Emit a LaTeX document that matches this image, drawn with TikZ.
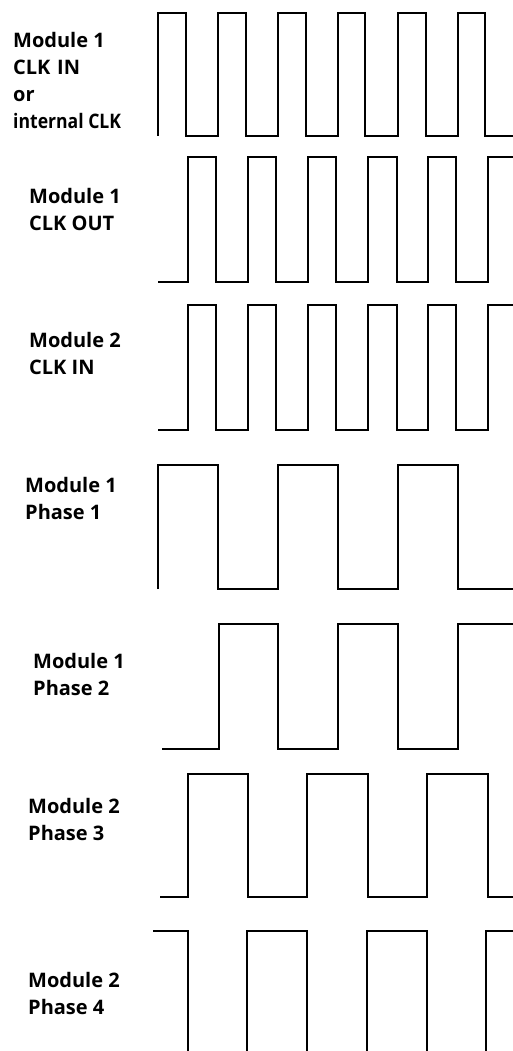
\documentclass[tikz,border=0pt]{standalone}
\usepackage{graphicx}
\usepackage{fontspec}
\setmainfont{Open Sans}
\begin{document}
\begin{tikzpicture}[x=1pt,y=-1pt,
  wave/.style={line width=2.6pt, black},
  lbl/.style={anchor=base west, inner sep=0pt, align=left,
    font=\bfseries\fontsize{20}{27}\selectfont}]
\useasboundingbox (0,0) rectangle (513,1051);
% labels (anchored at the baseline of their last line)
\node[lbl] (l1) at (13,128.3) {Module 1\\CLK\,\,IN\\or\\\scalebox{0.88}[1]{internal CLK}};
\node[lbl] (l2) at (29,230) {Module 1\\CLK OUT};
\node[lbl] (l3) at (29,374) {Module 2\\CLK IN};
\node[lbl] (l4) at (25,519.3) {Module 1\\Phase 1};
\node[lbl] (l5) at (33,695) {Module 1\\Phase 2};
\node[lbl] (l6) at (28,840) {Module 2\\Phase 3};
\node[lbl] (l7) at (28,1014) {Module 2\\Phase 4};
% waveform 1
\draw[wave] (158,136) -- (158,13) -- (186,13) -- (186,136) -- (218,136) -- (218,13) -- (246,13) -- (246,136) -- (278,136) -- (278,13) -- (306,13) -- (306,136) -- (338,136) -- (338,13) -- (365,13) -- (365,136) -- (398,136) -- (398,13) -- (426,13) -- (426,136) -- (458,136) -- (458,13) -- (485,13) -- (485,136) -- (513,136);
% waveform 2
\draw[wave] (158,282) -- (188,282) -- (188,157) -- (216,157) -- (216,282) -- (248,282) -- (248,157) -- (276,157) -- (276,282) -- (308,282) -- (308,157) -- (336,157) -- (336,282) -- (368,282) -- (368,157) -- (397,157) -- (397,282) -- (428,282) -- (428,157) -- (456,157) -- (456,282) -- (488,282) -- (488,157) -- (513,157);
% waveform 3
\draw[wave] (158,430) -- (188,430) -- (188,305) -- (216,305) -- (216,430) -- (248,430) -- (248,305) -- (276,305) -- (276,430) -- (308,430) -- (308,305) -- (336,305) -- (336,430) -- (368,430) -- (368,305) -- (397,305) -- (397,430) -- (428,430) -- (428,305) -- (456,305) -- (456,430) -- (488,430) -- (488,305) -- (513,305);
% waveform 4
\draw[wave] (158,589) -- (158,465) -- (218,465) -- (218,589) -- (278,589) -- (278,465) -- (338,465) -- (338,589) -- (398,589) -- (398,465) -- (458,465) -- (458,589) -- (513,589);
% waveform 5
\draw[wave] (162,749) -- (219,749) -- (219,624) -- (278,624) -- (278,749) -- (338,749) -- (338,624) -- (398,624) -- (398,749) -- (458,749) -- (458,624) -- (513,624);
% waveform 6
\draw[wave] (160,897) -- (188,897) -- (188,774) -- (248,774) -- (248,897) -- (307,897) -- (307,774) -- (368,774) -- (368,897) -- (427,897) -- (427,774) -- (488,774) -- (488,897) -- (513,897);
% waveform 7
\draw[wave] (153,931) -- (188,931) -- (188,1051);
\draw[wave] (247,1051) -- (247,931) -- (307,931) -- (307,1051);
\draw[wave] (367,1051) -- (367,931) -- (427,931) -- (427,1051);
\draw[wave] (486,1051) -- (486,931) -- (513,931);
\end{tikzpicture}
\end{document}
